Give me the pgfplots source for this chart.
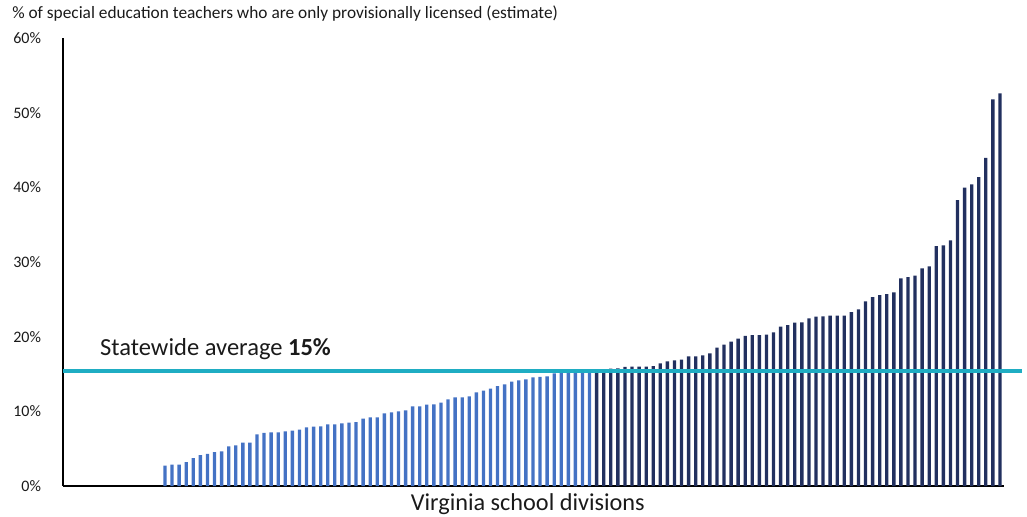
\documentclass[border=0pt]{standalone}
\usepackage{pgfplots}
\pgfplotsset{compat=1.18}
\usepackage{pgfplotstable}
\usepackage{fontspec}
\setmainfont{Carlito}
\definecolor{lightbar}{HTML}{4472C4}
\definecolor{darkbar}{HTML}{22305F}
\definecolor{avgline}{HTML}{1FADC3}
\definecolor{txt}{HTML}{1A1A1A}
\pgfplotstableread{
x y
1 2.72
2 2.85
3 2.85
4 3.21
5 3.75
6 4.15
7 4.29
8 4.55
9 4.64
10 5.31
11 5.45
12 5.80
13 5.80
14 6.92
15 7.10
16 7.19
17 7.19
18 7.32
19 7.41
20 7.54
21 7.86
22 7.95
23 7.99
24 8.26
25 8.26
26 8.39
27 8.48
28 8.57
29 9.01
30 9.20
31 9.20
32 9.73
33 9.87
34 10.00
35 10.14
36 10.67
37 10.67
38 10.89
39 10.94
40 11.16
41 11.61
42 11.88
43 11.88
44 12.01
45 12.55
46 12.76
47 13.03
48 13.39
49 13.62
50 13.97
51 14.16
52 14.29
53 14.56
54 14.60
55 14.69
56 15.10
57 15.15
58 15.20
59 15.20
60 15.25
61 15.30
}\lighttable
\pgfplotstableread{
x y
62 15.35
63 15.45
64 15.71
65 15.76
66 15.94
67 15.98
68 15.98
69 15.98
70 16.07
71 16.43
72 16.70
73 16.83
74 16.92
75 17.37
76 17.37
77 17.50
78 17.77
79 18.52
80 18.92
81 19.33
82 19.73
83 20.09
84 20.22
85 20.22
86 20.27
87 20.58
88 21.34
89 21.56
90 21.87
91 21.92
92 22.46
93 22.68
94 22.72
95 22.81
96 22.81
97 22.81
98 23.30
99 23.66
100 24.74
101 25.31
102 25.58
103 25.71
104 25.94
105 27.81
106 27.99
107 28.16
108 29.15
109 29.42
110 32.14
111 32.23
112 32.90
113 38.30
114 39.95
115 40.40
116 41.38
117 43.96
118 51.79
119 52.59
}\darktable
\begin{document}
\begin{tikzpicture}
\useasboundingbox (-47.25pt,-23.25pt) rectangle (723pt,364.5pt);
\begin{axis}[
  scale only axis,
  width=705.75pt, height=336pt,
  xmin=-13.415, xmax=119.57,
  ymin=0, ymax=60,
  axis x line*=bottom, axis y line*=left,
  axis line style={line width=1.3pt, draw=black},
  xtick=\empty,
  ytick={0,10,...,60},
  major tick length=0pt,
  /pgf/number format/assume math mode=true,
  yticklabel={\pgfmathprintnumber{\tick}\%},
  yticklabel style={font=\fontsize{12pt}{14pt}\selectfont, text=txt, anchor=east, xshift=-13pt},
  clip=false,
  tick align=outside,
]
\addplot[ybar, bar shift=0pt, bar width=2.5pt, fill=lightbar, draw=none] table[x=x,y=y] {\lighttable};
\addplot[ybar, bar shift=0pt, bar width=2.5pt, fill=darkbar, draw=none] table[x=x,y=y] {\darktable};
\addplot[avgline, line width=3pt, mark=none] coordinates {(-13.415,15.36) (122.1,15.36)};
\node[anchor=west, text=txt, font=\fontsize{18.4pt}{21pt}\selectfont, inner sep=0pt] at (axis cs:-8.19,18.3) {Statewide average \textbf{15\%}};
\node[anchor=center, text=txt, font=\fontsize{18.2pt}{21pt}\selectfont, inner sep=0pt] at (axis description cs:0.494,-0.040) {Virginia school divisions};
\node[anchor=west, text=txt, font=\fontsize{13pt}{15pt}\selectfont, inner sep=0pt] at (axis description cs:-0.0542,1.0536) {\% of special education teachers who are only provisionally licensed (estimate)};
\end{axis}
\end{tikzpicture}
\end{document}
